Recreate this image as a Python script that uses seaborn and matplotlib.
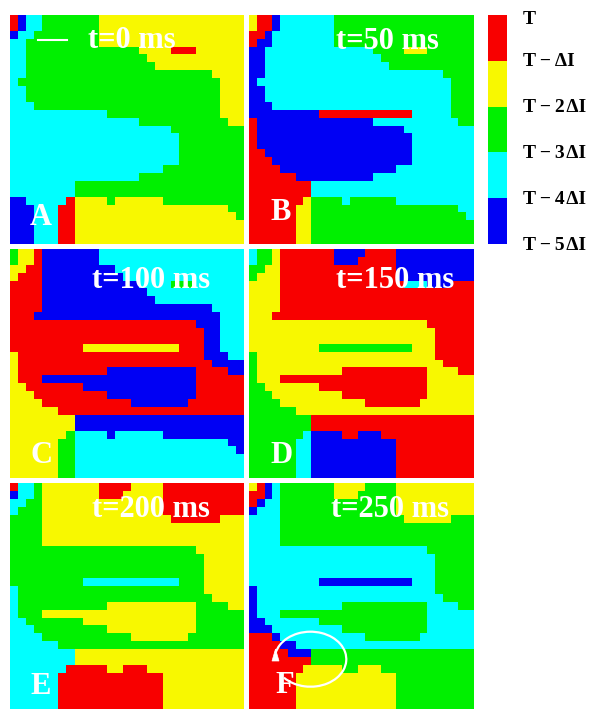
import matplotlib
matplotlib.use("Agg")
import numpy as np
import pandas as pd
import matplotlib.pyplot as plt
from matplotlib.colors import ListedColormap
from matplotlib.patches import Arc, Polygon
from matplotlib.lines import Line2D
import seaborn as sns

# Activation-time levels, from oldest (T-5ΔI) to newest (T)
LEVEL_CODES = ["b", "c", "g", "y", "r"]
LEVEL_COLORS = ["#0000f4", "#00ffff", "#00f000", "#f8f800", "#f80000"]
LEVEL_LABELS = ["T\u2009\u2212\u20095\u200a\u0394I", "T\u2009\u2212\u20094\u200a\u0394I",
                "T\u2009\u2212\u20093\u200a\u0394I", "T\u2009\u2212\u20092\u200a\u0394I",
                "T\u2009\u2212\u2009\u0394I", "T"]

TIMES = ["t=0 ms", "t=50 ms", "t=100 ms", "t=150 ms", "t=200 ms", "t=250 ms"]
LETTERS = ["A", "B", "C", "D", "E", "F"]

# Each map: 29 rows x 29 cells, run-length coded as <level><count>
MAP_A = [
    "r1 b1 c2 g7 y18", "r1 b1 c2 g7 y18", "b1 c2 g8 y18", "c2 g9 y18",
    "c2 g14 y4 r3 y6", "c2 g15 y12", "c2 g16 y11", "c2 g23 y4",
    "c1 g25 y3", "c2 g24 y3", "c2 g24 y3", "c3 g23 y3",
    "c12 g14 y3", "c16 g11 y2", "c20 g9", "c21 g8",
    "c21 g8", "c21 g8", "c21 g8", "c19 g10",
    "c16 g13", "c8 g21", "c8 g21", "b2 c5 r1 y4 g1 y6 g10",
    "b3 c3 r2 y19 g2", "b3 c3 r2 y20 g1", "b3 c3 r2 y21", "b3 c3 r2 y21",
    "b3 c3 r2 y21",
]
MAP_B = [
    "y1 r2 b1 c7 g18", "y1 r2 b1 c7 g18", "r2 b1 c8 g18", "r1 b2 c8 g18",
    "b2 c14 g4 y3 g6", "b2 c15 g12", "b2 c16 g11", "b2 c23 g4",
    "b1 c25 g3", "b2 c24 g3", "b2 c24 g3", "b3 c23 g3",
    "b9 r12 c5 g3", "r1 b15 c11 g2", "r1 b19 c9", "r1 b20 c8",
    "r1 b20 c8", "r2 b19 c8", "r3 b18 c8", "r4 b15 c10",
    "r6 b10 c13", "r8 c21", "r8 c21", "r7 y1 g4 c1 g6 c10",
    "r6 y2 g19 c2", "r6 y2 g20 c1", "r6 y2 g21", "r6 y2 g21",
    "r6 y2 g21",
]
MAP_C = [
    "g1 y2 r1 b7 c18", "g1 y2 r1 b7 c18", "y2 r2 b9 c16", "y1 r3 b10 c15",
    "r4 b12 c4 g3 c6", "r4 b13 c12", "r4 b14 c11", "r4 b21 c4",
    "r3 b23 c3", "r23 b3 c3", "r24 b2 c3", "r24 b2 c3",
    "r9 y12 r3 b2 c3", "y1 r23 b3 c2", "y1 r24 b4", "y1 r11 b11 r4 b2",
    "y1 r3 b19 r6", "y2 r7 b14 r6", "y3 r9 b11 r6", "y4 r11 b7 r7",
    "y6 r23", "y8 b21", "y8 b21", "y7 g1 c4 b1 c6 b10",
    "y6 g2 c19 b2", "y6 g2 c20 b1", "y6 g2 c21", "y6 g2 c21",
    "y6 g2 c21",
]
MAP_D = [
    "c1 g2 y1 r7 b4 r4 b10", "c1 g2 y1 r7 b3 r5 b10", "g2 y2 r15 b10", "g1 y3 r15 b10",
    "y4 r16 c3 b3 r3", "y4 r25", "y4 r25", "y4 r25",
    "y3 r26", "y23 r6", "y24 r5", "y24 r5",
    "y9 g12 y3 r5", "g1 y23 r5", "g1 y24 r4", "g1 y11 r11 y4 r2",
    "g1 y3 r19 y6", "g2 y7 r14 y6", "g3 y9 r11 y6", "g4 y11 r7 y7",
    "g6 y23", "g8 r21", "g8 r21", "g7 c1 b4 r2 b3 r12",
    "g6 c2 b11 r10", "g6 c2 b11 r10", "g6 c2 b11 r10", "g6 c2 b11 r10",
    "g6 c2 b11 r10",
]
MAP_E = [
    "r1 c2 g1 y7 r4 y4 r10", "b1 c2 g1 y7 r3 y5 r10", "c2 g2 y15 r10", "c1 g3 y15 r10",
    "g4 y16 r6 y3", "g4 y25", "g4 y25", "g4 y25",
    "g23 y6", "g24 y5", "g24 y5", "g24 y5",
    "g9 c12 g3 y5", "c1 g23 y5", "c1 g24 y4", "c1 g11 y11 g4 y2",
    "c1 g3 y19 g6", "c2 g7 y14 g6", "c3 g9 y11 g6", "c4 g11 y7 g7",
    "c6 g23", "c8 y21", "c8 y21", "c7 r5 y2 r3 y12",
    "c6 r13 y10", "c6 r13 y10", "c6 r13 y10", "c6 r13 y10",
    "c6 r13 y10",
]
MAP_F = [
    "y1 r1 b1 c1 g7 y4 g4 y10", "r2 b1 c1 g7 y3 g5 y10", "r1 b1 c2 g15 y10", "b1 c3 g15 y10",
    "c4 g16 y6 g3", "c4 g25", "c4 g25", "c4 g25",
    "c23 g6", "c24 g5", "c24 g5", "c24 g5",
    "c9 b12 c3 g5", "b1 c23 g5", "b1 c24 g4", "b1 c11 g11 c4 g2",
    "b1 c3 g19 c6", "b2 c7 g14 c6", "b3 c9 g11 c6", "r3 b1 c11 g7 c7",
    "r4 b2 c23", "r5 b3 g21", "r8 g21", "r7 y5 g2 y3 g12",
    "r6 y13 g10", "r6 y13 g10", "r6 y13 g10", "r6 y13 g10",
    "r6 y13 g10",
]
MAPS = [MAP_A, MAP_B, MAP_C, MAP_D, MAP_E, MAP_F]

NCOL = 29


def decode(rows):
    out = []
    for row in rows:
        cells = []
        for tok in row.split():
            cells += [LEVEL_CODES.index(tok[0])] * int(tok[1:])
        cells = (cells + [cells[-1]] * NCOL)[:NCOL]
        out.append(cells)
    return pd.DataFrame(np.array(out, dtype=float))


W, H = 590, 709
fig = plt.figure(figsize=(W / 100, H / 100), dpi=100)
fig.patch.set_facecolor("white")
plt.rcParams["font.family"] = ["Liberation Serif", "DejaVu Serif"]


def px_axes(x0, y0, x1, y1):
    return fig.add_axes([x0 / W, 1 - y1 / H, (x1 - x0) / W, (y1 - y0) / H])


def fx(x):
    return x / W


def fy(y):
    return 1 - y / H


# panel frames in pixels: (left, top, right, bottom)
FRAMES = [
    (10, 15, 244, 244), (249, 15, 474, 244),
    (10, 249, 244, 478), (249, 249, 474, 478),
    (10, 483.3, 244, 712.3), (249, 483.3, 474, 712.3),
]
# anchor points (left x, baseline y) for the time stamps and panel letters
TIME_POS = [(88, 48), (336, 49), (92, 288), (336, 288), (92, 517), (331, 517)]
LETTER_POS = [(30, 225), (270, 220), (30, 463), (270, 463), (30, 694), (275, 693)]

cmap = ListedColormap(LEVEL_COLORS)
cax = px_axes(488, 15, 507, 244)

for i, (rows, frame) in enumerate(zip(MAPS, FRAMES)):
    ax = px_axes(*frame)
    sns.heatmap(decode(rows), ax=ax, cmap=cmap, vmin=-0.5, vmax=4.5,
                cbar=(i == 0), cbar_ax=cax if i == 0 else None,
                xticklabels=False, yticklabels=False)
    ax.set_xlabel("")
    ax.set_ylabel("")
    tx, ty = TIME_POS[i]
    fig.text(fx(tx), fy(ty), TIMES[i], color="white", fontsize=22,
             fontweight="bold", ha="left", va="baseline")
    lx, ly = LETTER_POS[i]
    fig.text(fx(lx), fy(ly), LETTERS[i], color="white", fontsize=22,
             fontweight="bold", ha="left", va="baseline")

# scale bar in the first map
fig.add_artist(Line2D([fx(38), fx(67)], [fy(39.5), fy(39.5)],
                      transform=fig.transFigure, color="white", lw=1.5))

# rotation path in the last map
cx, cy, ew, eh = 310.5, 659.2, 71.6, 55.0
fig.add_artist(Arc((fx(cx), fy(cy)), ew / W, eh / H, theta1=210, theta2=532,
                   transform=fig.transFigure, color="white", lw=1.6))
fig.add_artist(Polygon([(fx(275.5), fy(649)), (fx(272.0), fy(661)), (fx(279.0), fy(661))],
                       closed=True, transform=fig.transFigure,
                       facecolor="white", edgecolor="white", lw=0.5))

# colour scale: level labels placed beside the block boundaries
cbar = fig.axes[1].collections[0].colorbar
cbar.set_ticks([])
cbar.outline.set_visible(False)
LABEL_Y = [245, 199, 153, 107, 61, 19]
for lab, y in zip(LEVEL_LABELS, LABEL_Y):
    fig.text(fx(523), fy(y), lab, fontsize=14, fontweight="bold",
             ha="left", va="center", color="black",
             family=["Liberation Serif", "DejaVu Serif"])

fig.savefig("out.png", dpi=100, facecolor="white")
